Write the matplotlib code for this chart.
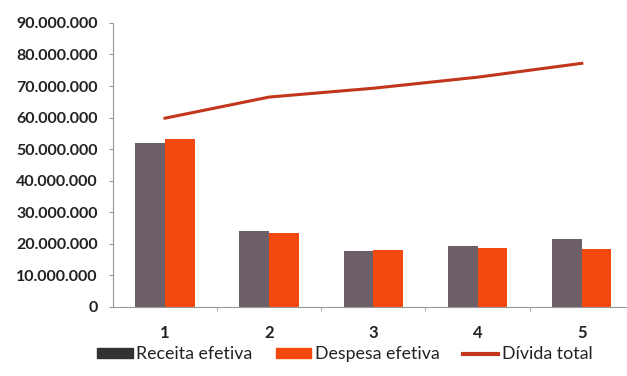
import matplotlib.pyplot as plt
import numpy as np
from matplotlib.patches import Patch
from matplotlib.lines import Line2D

categorias = ["1", "2", "3", "4", "5"]
receita = [51_900_000, 24_000_000, 17_800_000, 19_300_000, 21_400_000]
despesa = [53_200_000, 23_300_000, 18_000_000, 18_800_000, 18_300_000]
divida = [59_800_000, 66_500_000, 69_300_000, 72_800_000, 77_200_000]

plt.rcParams['font.family'] = ['Lato', 'DejaVu Sans']

fig = plt.figure(figsize=(6.27, 3.76), dpi=100)
ax = fig.add_axes([0.18, 0.184, 0.831, 0.755])

x = np.arange(1, len(categorias) + 1)
w = 0.285
ax.bar(x - w/2, receita, w, color="#6d5f67")
ax.bar(x + w/2, despesa, w, color="#f2490f")
ax.plot(x, divida, color="#c2361c", lw=2.2)

ax.set_xlim(0.5, 5.5)
ax.set_ylim(0, 90_000_000)
ax.set_yticks(np.arange(0, 90_000_001, 10_000_000))
ax.set_yticklabels(["0" if v == 0 else f"{v:,}".replace(",", ".") for v in range(0, 90_000_001, 10_000_000)])
ax.set_xticks(x)
ax.set_xticklabels(categorias)
ax.set_xticks(np.arange(1.5, 5.5, 1), minor=True)
ax.tick_params(axis='x', which='major', length=0, pad=13, labelsize=12)
ax.tick_params(axis='x', which='minor', length=3, color="#999999")
ax.tick_params(axis='y', length=3, color="#999999", labelsize=11.5, pad=8)
for lbl in ax.get_xticklabels() + ax.get_yticklabels():
    lbl.set_fontweight('bold')
    lbl.set_color('#222222')

for s in ['top', 'right']:
    ax.spines[s].set_visible(False)
ax.spines['left'].set_color('#999999')
ax.spines['bottom'].set_color('#999999')

handles = [Patch(color="#333333"), Patch(color="#f2490f"), Line2D([], [], color="#c2361c", lw=3)]
leg = fig.legend(handles, ["Receita efetiva", "Despesa efetiva", "Dívida total"],
                 loc='center', bbox_to_anchor=(0.55, 0.058), ncol=3, frameon=False,
                 fontsize=12.8, handlelength=2.0, handleheight=0.5, columnspacing=1.3, handletextpad=0.2)
for t in leg.get_texts():
    t.set_color('#222222')

fig.savefig("out.png", dpi=100)
